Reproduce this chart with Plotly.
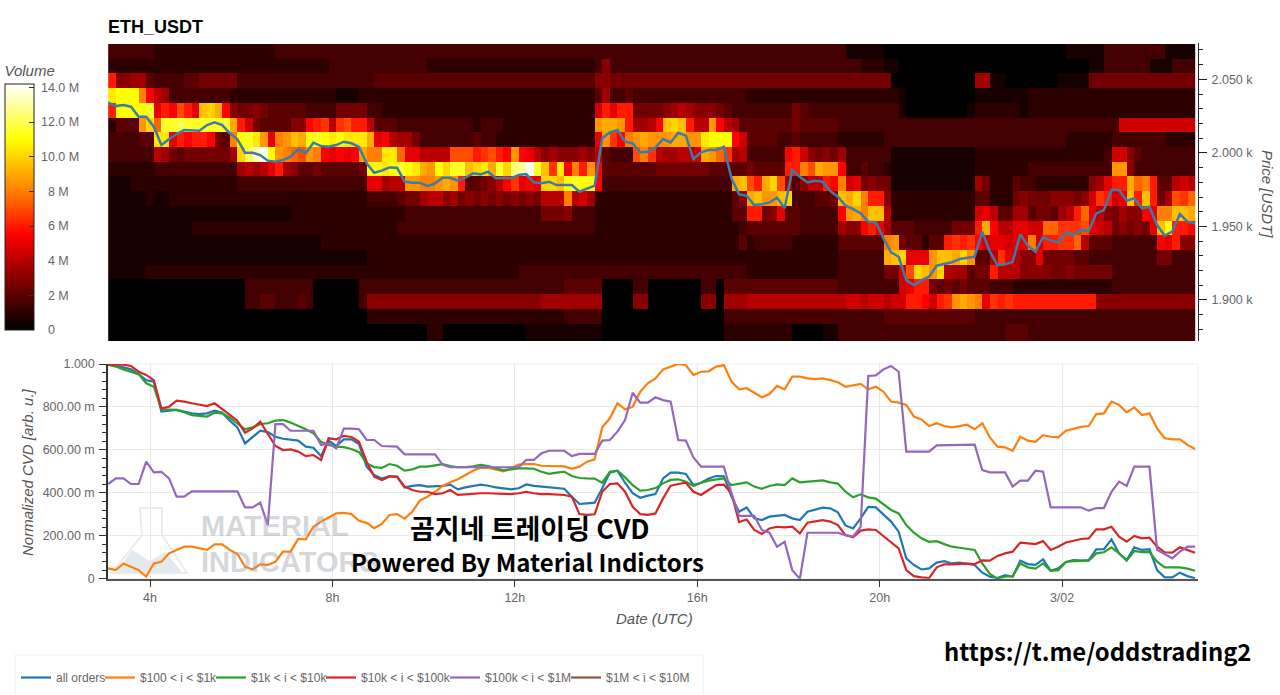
import pandas as pd
import plotly.graph_objects as go
from plotly.subplots import make_subplots

W, H = 1280, 695
AXIS_FONT = "Liberation Sans, Arial, sans-serif"
GREY = "#666666"

# one char per 10 min cell, groups of six = one hour; char index * 0.5 M = volume
LEVELS = "0123456789abcdefghijklmnopqrs"
HEAT_ROWS = [
    "333333 222222 222222 222233 333333 333333 333333 333333 333333 333333 333333 333333 333333 333333 333333 333333 311111 000000 000000 000000 000000 111113 333333 31111",
    "222222 222222 222222 222222 222223 333333 333333 222222 222222 222222 222236 333333 333333 333333 333333 333333 333222 110000 000000 000000 000000 000113 333331 11333",
    "c66774 333344 555553 333333 333333 333334 444444 444444 444444 444444 444466 555555 555555 555555 555555 555555 555555 500000 000000 771100 000001 111555 555555 55555",
    "lmmmgb 873333 333322 222222 222222 111222 222222 222222 222222 222222 222247 334333 333333 333333 222222 222222 222222 221000 000000 111111 122222 222222 222222 22222",
    "cmmmmn acbeca jkib65 565444 443333 555533 222222 222222 222222 222222 22229c acc555 567876 665433 333333 543333 333333 331000 000001 222222 122222 222222 222222 22222",
    "2444hk fnnonn nnnnic 954444 66bcd8 decc84 443333 333333 233322 222222 2222hi ihc778 bjkjc8 8hb874 444444 544444 333333 333333 333333 333333 333333 333333 399999 99999",
    "333344 llacbc cb54gm nlhagh jimnml mlllia b87753 333333 433222 222222 2222ah dbghih hhiihh lmmmb9 444433 433333 222222 333333 333333 333333 333333 222222 333333 32222",
    "333333 875455 55557k orsmhg fehgba babigg llfaa8 888eee cdecbh ba8676 667684 333egd 877889 ihfd78 33333b c96565 733333 311111 111111 222222 222222 222223 996433 33333",
    "222222 333333 333337 878ac7 644544 4445mm lmnmli hmknnj klinkp qsnjdl bgchb4 444444 555555 544444 54444c cgeihh b33433 211111 111111 222222 233333 333333 hh6333 33333",
    "111222 222222 222223 333333 333333 3333aa 788hhg ghihc4 4568bd abakkj mnmmb3 333333 333333 3333ij ecike7 4688cb g9a565 511111 111111 752224 332222 22267a ccifgc 44898",
    "111112 112222 222222 222222 222222 222233 334557 886756 565656 565888 g89722 222222 222222 222246 ijhhjk 333445 jikgcc 622222 222222 442225 655566 6569dc 9ajcjc 57edf",
    "111111 111111 111111 111111 222222 222222 222333 333333 333333 333555 633322 222222 222222 222244 cc56a4 433333 bhigjj 822222 222222 9a8447 745547 8cfa86 5766ba ggjji",
    "111111 111112 222222 222222 222222 222222 223333 333333 333333 333333 333322 222222 222222 222223 444444 433333 766bca 744433 333555 cib88a a99ffd ddea98 56565a jmccb",
    "111111 111111 111111 111111 111122 222222 222222 222222 222222 222222 222222 222222 222222 222224 233333 222222 444444 gh5442 44cdcd b9aa9a ag9ccd df8444 333333 bac66",
    "111111 111111 111111 111111 111111 111122 222222 222222 222222 222222 222222 222222 222222 222222 222222 222222 333333 ijkaaa hjjikh 448da8 66a555 544333 333333 55333",
    "111112 222222 222222 222222 222222 222222 222222 222222 222222 333333 333333 333333 333333 333333 222222 222222 333333 559ekj hk8774 55c888 666655 655555 333333 33333",
    "000000 000000 000000 333333 333000 000333 333333 333333 333333 333333 444440 000330 000000 330444 444444 444444 333333 339acc 545454 443332 222222 222222 333333 33333",
    "000000 000000 000000 334433 343000 000366 666666 666666 666666 666777 777770 000660 000000 660777 888888 888888 899899 899ccb 9cdhih gadcdc cccccc cccc66 666666 66666",
    "000000 000000 000000 000000 000000 000022 222222 222222 222222 222222 333330 000000 000000 000333 333333 333333 333333 444444 444444 333333 333333 333333 333333 33333",
    "000000 000000 000000 000000 000000 000000 000000 220000 000000 011111 111110 000000 000000 000222 222222 000011 333333 333333 333333 333344 433333 333333 333333 33333",
    "000000 000000 000000 000000 000000 000000 000000 220000 000000 011111 111110 000000 000000 000222 222222 000011 333333 333333 333333 333344 433333 333333 333333 33333",
]
ROW_PRICES = [2069, 2059, 2049, 2039, 2029, 2019, 2009, 1999, 1989, 1979, 1969,
              1959, 1949, 1939, 1929, 1919, 1909, 1899, 1889, 1879, 1869]

PRICE = [
    2034.1, 2031.8, 2032.5, 2031.4, 2024.6, 2024.6, 2017.8, 2005.3, 2009.2, 2012.8, 2015.5, 2015.3,
    2015.1, 2018.9, 2020.7, 2018.9, 2013.3, 2009.2, 2000.1, 2000.1, 1998.5, 1994.7, 1994, 1995.1,
    1997.4, 2002.4, 1999.7, 2006.9, 2004.6, 2004.2, 2005.3, 2007.6, 2006.5, 2004, 1992.9, 1986.5,
    1987.9, 1990.1, 1989.9, 1980.4, 1979.7, 1979.7, 1977.4, 1979.3, 1983.1, 1983.1, 1981.1, 1983.1,
    1986.1, 1985.4, 1987.2, 1982.7, 1983.1, 1982.7, 1984.9, 1985.6, 1980, 1979.3, 1980.4, 1978.1,
    1978.1, 1978.1, 1973.6, 1975.4, 1977.7, 2009.9, 2013.9, 2015.5, 2007.6, 2006.5, 2000.3, 2000.8,
    2003.5, 2009.4, 2007.1, 2013.7, 2011.7, 1995.8, 2000.3, 2001.9, 2001.9, 2004.2, 1982.7, 1971.8,
    1970.9, 1964.5, 1965, 1966.3, 1969.5, 1962.3, 1988.3, 1983.8, 1979.9, 1981.1, 1980.4, 1974.1,
    1970.2, 1964.1, 1961.8, 1958.9, 1953.2, 1952.8, 1941.9, 1932.4, 1929.4, 1913.5, 1910.1, 1913.3,
    1915.8, 1923.3, 1924.7, 1925.6, 1927.8, 1928.7, 1929.4, 1946.4, 1932.8, 1923.7, 1924.2, 1926,
    1944.6, 1936.9, 1932.8, 1942.8, 1940.5, 1939.1, 1946, 1944.1, 1947.5, 1946.9, 1958.9, 1961.1,
    1974.7, 1974.7, 1967.5, 1969.1, 1962.3, 1963.4, 1950.9, 1943.7, 1946.4, 1958.4, 1953.2, 1952.1,
]

ALL_ORDERS = [
    .997, .991, .984, .975, .953, .925, .918, .778, .781, .786, .778, .77,
    .767, .77, .783, .773, .736, .705, .63, .658, .689, .683, .661, .652,
    .648, .643, .615, .61, .571, .643, .618, .649, .649, .627, .522, .483,
    .467, .478, .475, .425, .432, .436, .429, .429, .432, .438, .416, .425,
    .432, .438, .433, .425, .421, .416, .421, .439, .432, .429, .425, .421,
    .419, .382, .348, .351, .354, .421, .494, .503, .447, .398, .377, .387,
    .394, .467, .494, .494, .488, .436, .447, .467, .478, .477, .382, .312,
    .332, .281, .273, .289, .293, .297, .281, .273, .312, .32, .331, .328,
    .309, .248, .234, .281, .335, .332, .297, .266, .219, .095, .064, .043,
    .048, .075, .082, .071, .075, .071, .064, .028, .009, .003, .017, .009,
    .084, .068, .064, .09, .037, .048, .078, .087, .084, .087, .137, .138,
    .183, .118, .087, .146, .134, .137, .04, .006, .006, .028, .012, .002,
]
ORDERS_100_1K = [
    .048, .04, .071, .056, .04, .01, .071, .079, .118, .134, .149, .149,
    .141, .134, .16, .16, .134, .115, .056, .043, .067, .064, .079, .126,
    .126, .185, .183, .242, .266, .284, .304, .307, .301, .27, .26, .235,
    .255, .297, .301, .28, .312, .364, .382, .405, .432, .449, .463, .483,
    .503, .517, .516, .509, .5, .514, .531, .534, .534, .526, .525, .525,
    .523, .512, .522, .545, .556, .705, .747, .817, .789, .801, .871, .91,
    .933, .975, .988, 1.0, .994, .949, .964, .966, .988, .995, .918, .882,
    .887, .866, .845, .86, .898, .882, .941, .941, .933, .93, .933, .925,
    .915, .894, .9, .907, .882, .894, .871, .825, .82, .809, .755, .742,
    .711, .724, .711, .705, .711, .717, .696, .724, .658, .615, .612, .596,
    .661, .643, .638, .668, .661, .658, .689, .699, .707, .711, .767, .77,
    .825, .809, .775, .798, .762, .77, .7, .654, .649, .649, .623, .604,
]
ORDERS_1K_10K = [
    .997, .988, .975, .964, .953, .91, .894, .789, .789, .786, .775, .762,
    .758, .755, .773, .77, .75, .724, .696, .705, .72, .724, .736, .739,
    .727, .711, .696, .677, .638, .623, .615, .613, .604, .589, .537, .52,
    .516, .534, .526, .503, .509, .522, .522, .528, .534, .525, .519, .52,
    .523, .53, .525, .514, .505, .509, .514, .514, .512, .498, .488, .494,
    .498, .478, .469, .467, .466, .447, .498, .503, .472, .436, .41, .413,
    .422, .444, .46, .463, .452, .432, .447, .457, .463, .467, .436, .441,
    .449, .429, .419, .432, .439, .436, .467, .449, .452, .458, .458, .449,
    .443, .405, .379, .393, .379, .373, .348, .32, .304, .25, .214, .188,
    .172, .175, .161, .149, .144, .14, .134, .071, .022, 0, .009, .012,
    .071, .053, .047, .071, .037, .04, .078, .082, .084, .084, .118, .123,
    .146, .118, .084, .129, .124, .124, .079, .053, .053, .053, .047, .037,
]
ORDERS_10K_100K = [
    .997, .997, .997, .991, .964, .949, .925, .793, .801, .829, .825, .817,
    .809, .804, .817, .789, .762, .736, .68, .7, .731, .677, .618, .599,
    .602, .592, .571, .576, .553, .654, .649, .665, .66, .638, .545, .475,
    .46, .475, .475, .429, .413, .405, .405, .394, .398, .413, .39, .393,
    .396, .398, .398, .396, .394, .394, .398, .404, .398, .394, .394, .391,
    .39, .382, .301, .297, .3, .405, .441, .444, .405, .335, .301, .297,
    .304, .374, .433, .441, .447, .405, .39, .413, .436, .438, .398, .264,
    .276, .227, .208, .234, .242, .239, .242, .211, .261, .267, .273, .266,
    .25, .203, .193, .224, .23, .227, .199, .168, .141, .04, .012, .006,
    .003, .053, .067, .067, .07, .07, .068, .085, .084, .106, .118, .126,
    .168, .165, .161, .175, .134, .149, .169, .177, .185, .188, .23, .23,
    .242, .196, .172, .199, .188, .191, .149, .123, .121, .146, .134, .121,
]
ORDERS_100K_1M = [
    .441, .467, .467, .441, .441, .545, .495, .498, .467, .382, .382, .407,
    .407, .407, .407, .407, .407, .407, .332, .332, .354, .25, .72, .72,
    .689, .689, .689, .689, .623, .63, .607, .699, .699, .696, .646, .646,
    .618, .618, .615, .579, .579, .579, .579, .579, .53, .519, .519, .519,
    .519, .519, .519, .519, .519, .519, .519, .553, .553, .584, .596, .596,
    .596, .571, .581, .581, .581, .643, .646, .685, .739, .866, .82, .82,
    .845, .832, .825, .646, .643, .565, .522, .522, .522, .522, .398, .293,
    .293, .293, .227, .214, .149, .172, .04, 0, .214, .214, .214, .214,
    .214, .203, .196, .242, .944, .947, .975, .991, .964, .592, .592, .592,
    .592, .621, .621, .621, .621, .621, .624, .506, .495, .495, .495, .429,
    .457, .457, .503, .498, .332, .332, .332, .332, .332, .317, .329, .329,
    .405, .452, .432, .522, .522, .522, .134, .115, .095, .126, .149, .149,
]

SERIES = [
    ("all orders", ALL_ORDERS, "#1f77b4"),
    ("$100 < i < $1k", ORDERS_100_1K, "#ff7f0e"),
    ("$1k < i < $10k", ORDERS_1K_10K, "#2ca02c"),
    ("$10k < i < $100k", ORDERS_10K_100K, "#d62728"),
    ("$100k < i < $1M", ORDERS_100K_1M, "#9467bd"),
]

PRICE_TICKS = [1900, 1950, 2000, 2050]
PRICE_LABELS = ["1.900 k", "1.950 k", "2.000 k", "2.050 k"]
CVD_TICKS = [0, 0.2, 0.4, 0.6, 0.8, 1.0]
CVD_LABELS = ["0", "200.00 m", "400.00 m", "600.00 m", "800.00 m", "1.000"]
TIME_TICKS = ["2025-03-01 04:00", "2025-03-01 08:00", "2025-03-01 12:00",
              "2025-03-01 16:00", "2025-03-01 20:00", "2025-03-02 00:00"]
TIME_LABELS = ["4h", "8h", "12h", "16h", "20h", "3/02"]
VOLUME_TICKS = [0, 2e6, 4e6, 6e6, 8e6, 10e6, 12e6, 14e6]
VOLUME_LABELS = ["\u00a0\u00a0\u00a00", "\u00a0\u00a0\u00a02 M", "\u00a0\u00a0\u00a04 M", "\u00a0\u00a0\u00a06 M",
                 "\u00a0\u00a0\u00a08 M", "\u00a010.0 M", "\u00a012.0 M", "\u00a014.0 M"]
VOLUME_MAX = 14.2e6


def px(x):
    return x / W


def py(y):
    return 1 - y / H


times = pd.date_range("2025-03-01 03:05", periods=144, freq="10min")
cell_centres = times[:-1] + pd.Timedelta(minutes=5)

rows = [row.replace(" ", "") for row in HEAT_ROWS]
for row in rows:
    assert len(row) == 143, (len(row), row)
volume = [[LEVELS.index(c) * 0.5e6 for c in row] for row in rows]
for s in SERIES:
    assert len(s[1]) == 144, s[0]
assert len(PRICE) == 144

fig = make_subplots(rows=2, cols=1)

fig.add_trace(go.Heatmap(
    x=cell_centres,
    y=ROW_PRICES[::-1],
    z=volume[::-1],
    zmin=0,
    zmax=VOLUME_MAX,
    colorscale=[
        [0, "#000000"],
        [2e6 / VOLUME_MAX, "#5a0000"],
        [4e6 / VOLUME_MAX, "#b80000"],
        [5.5e6 / VOLUME_MAX, "#ff0000"],
        [8e6 / VOLUME_MAX, "#ff8000"],
        [11e6 / VOLUME_MAX, "#ffff00"],
        [1, "#ffffff"],
    ],
    colorbar=dict(
        x=px(5), xanchor="left", xpad=0,
        y=py(62), yanchor="top", ypad=0,
        thickness=29, thicknessmode="pixels",
        len=268, lenmode="pixels",
        outlinecolor="#222222", outlinewidth=1,
        ticks="inside", ticklen=5, tickcolor="#333333",
        tickvals=VOLUME_TICKS, ticktext=VOLUME_LABELS,
        tickfont=dict(family=AXIS_FONT, size=12.5, color=GREY),
        title=dict(text="<i>Volume</i>", side="top",
                   font=dict(family=AXIS_FONT, size=15, color="#555555")),
    ),
    showlegend=False,
), row=1, col=1)

fig.add_trace(go.Scatter(
    x=times, y=PRICE, mode="lines",
    line=dict(color="#3a7cab", width=2.5),
    showlegend=False,
), row=1, col=1)

# one legend per entry so the uneven spacing of the original row can be kept
LEGEND_LEFT = [16, 100, 211, 321, 445, 566]
legend_ids = ["legend"] + [f"legend{i}" for i in range(2, 7)]

for i, (name, values, color) in enumerate(SERIES):
    fig.add_trace(go.Scatter(
        x=times, y=values, mode="lines", name=name, legend=legend_ids[i],
        line=dict(color=color, width=2.2),
    ), row=2, col=1)

# no visible line in the picture, only the legend entry
fig.add_trace(go.Scatter(
    x=[None], y=[None], mode="lines", name="$1M < i < $10M", legend=legend_ids[5],
    line=dict(color="#8c564b", width=2.2),
), row=2, col=1)

x_range = ["2025-03-01 03:04:44", "2025-03-02 02:58:50"]

fig.update_layout(
    width=W,
    height=H,
    margin=dict(l=0, r=0, t=0, b=0, autoexpand=False),
    paper_bgcolor="white",
    plot_bgcolor="white",
    font=dict(family=AXIS_FONT, color=GREY),
    xaxis=dict(domain=[px(108), px(1198)], range=x_range, visible=False),
    yaxis=dict(
        domain=[py(341), py(43)], range=[1872.1, 2074.7], side="right",
        showgrid=False, zeroline=False,
        showline=True, linecolor="#222222", linewidth=1,
        ticks="outside", ticklen=8, tickcolor="#222222", ticklabelstandoff=2,
        tickvals=PRICE_TICKS, ticktext=PRICE_LABELS,
        tickfont=dict(size=12.5, color=GREY),
        minor=dict(dtick=10, tick0=1900, ticks="outside", ticklen=4, tickcolor="#222222", showgrid=False),
    ),
    xaxis2=dict(
        domain=[px(108), px(1198)], range=x_range,
        showgrid=True, gridcolor="#e8e8e8", gridwidth=1,
        showline=True, linecolor="#555555", linewidth=1.5,
        ticks="outside", ticklen=7, tickcolor="#333333",
        tickvals=TIME_TICKS, ticktext=TIME_LABELS,
        tickfont=dict(size=12.5, color=GREY),
    ),
    yaxis2=dict(
        domain=[py(578.7), py(364)], range=[0, 1],
        showgrid=True, gridcolor="#e8e8e8", gridwidth=1, zeroline=False,
        showline=True, linecolor="#333333", linewidth=1.5,
        ticks="outside", ticklen=7, tickcolor="#333333", ticklabelstandoff=2,
        tickvals=CVD_TICKS, ticktext=CVD_LABELS,
        tickfont=dict(size=12.5, color=GREY),
        minor=dict(dtick=0.04, tick0=0, ticks="outside", ticklen=4, tickcolor="#333333", showgrid=False),
    ),
)

for legend_id, left in zip(legend_ids, LEGEND_LEFT):
    fig.update_layout({legend_id: dict(
        orientation="h",
        x=px(left), xanchor="left",
        y=py(663), yanchor="top",
        font=dict(family=AXIS_FONT, size=12, color=GREY),
        itemwidth=30,
        bgcolor="rgba(0,0,0,0)",
    )})

# legend frame, border of the lower plot, watermark flask
fig.add_shape(type="rect", xref="paper", yref="paper", layer="below",
              x0=px(15), x1=px(703), y0=py(699), y1=py(655),
              line=dict(color="#efefef", width=1))
fig.add_shape(type="rect", xref="paper", yref="paper", layer="below",
              x0=px(108), x1=px(1198), y0=py(578.7), y1=py(364),
              line=dict(color="#eeeeee", width=1))
flask = [(140, 508), (162, 508), (162, 535), (187, 573), (112, 573), (142, 535)]
liquid = [(116, 573), (132, 550), (150, 561), (165, 552), (183, 573)]


def poly(points):
    return "M" + " L".join(f"{px(x):.5f},{py(y):.5f}" for x, y in points) + " Z"


fig.add_shape(type="path", xref="paper", yref="paper", layer="below", path=poly(liquid),
              fillcolor="#e2eaee", line=dict(width=0))
fig.add_shape(type="path", xref="paper", yref="paper", layer="below", path=poly(flask),
              line=dict(color="#e9ebed", width=2))


def note(text, x, y, size, color="#000000", family=AXIS_FONT, xanchor="center", angle=0):
    fig.add_annotation(
        text=text, x=px(x), y=py(y), xref="paper", yref="paper",
        xanchor=xanchor, yanchor="middle", showarrow=False, textangle=angle,
        font=dict(family=family, size=size, color=color),
    )


WATERMARK = "rgba(150,160,168,0.42)"
note("<b>MATERIAL</b>", 199, 526, 29, WATERMARK, xanchor="left")
note("<b>INDICATORS</b>", 199, 562, 29, WATERMARK, xanchor="left")

note("<b>ETH_USDT</b>", 106, 27, 18, xanchor="left")
note("<i>Price [USDT]</i>", 1268, 194, 15, "#555555", angle=90)
note("<i>Normalized CVD [arb. u.]</i>", 27, 472, 15, "#555555", angle=-90)
note("<i>Date (UTC)</i>", 654, 618, 15, "#555555")

OVERLAY_FONT = "Noto Sans CJK KR, Noto Sans"
note("<b>곰지네 트레이딩 CVD</b>", 530, 527, 27, family=OVERLAY_FONT)
note("<b>Powered By Material Indictors</b>", 527, 561, 24, family=OVERLAY_FONT)
note("<b>https://t.me/oddstrading2</b>", 1097, 650, 23.8, family=OVERLAY_FONT)

fig.write_html("out.html", config={"displayModeBar": False},
               post_script="document.body.style.margin='0';")
